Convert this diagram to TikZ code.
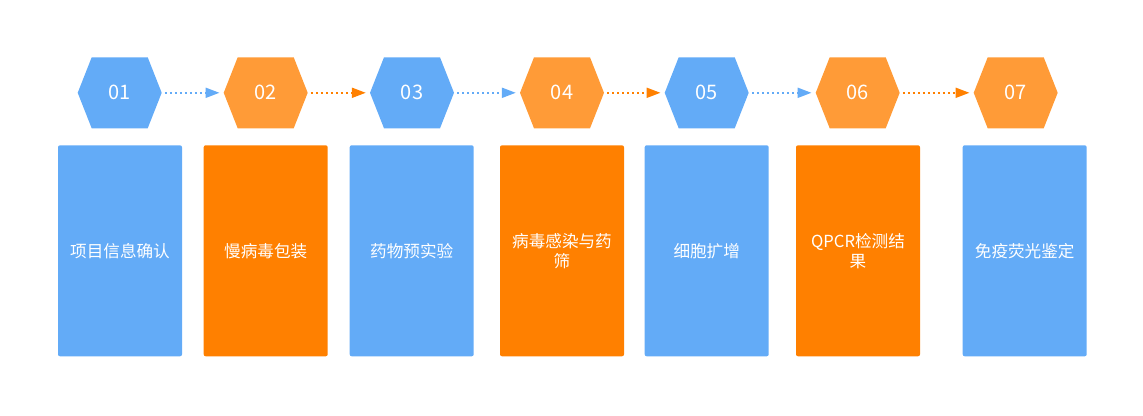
\documentclass[tikz,border=0pt]{standalone}
\usepackage{fontspec}
\newfontfamily\cjk{Noto Sans CJK SC}
\usetikzlibrary{arrows.meta}
\definecolor{stepblue}{HTML}{63ABF7}
\definecolor{steporange}{HTML}{FF8000}
\definecolor{hexorange}{HTML}{FF9B37}
\newcommand{\boxfont}{\fontsize{16.6}{20}\selectfont}
\newcommand{\numfont}{\fontsize{20}{22}\selectfont}
\tikzset{hexnode/.style={minimum width=84pt,minimum height=71pt,inner sep=0,text=white,font=\cjk\numfont,
    path picture={\fill[#1] (path picture bounding box.west)
      -- ([xshift=14pt]path picture bounding box.north west) -- ([xshift=-14pt]path picture bounding box.north east)
      -- (path picture bounding box.east)
      -- ([xshift=-14pt]path picture bounding box.south east) -- ([xshift=14pt]path picture bounding box.south west)
      -- cycle;}},
  stepbox/.style={fill=#1,rounded corners=2pt,minimum width=124pt,minimum height=211pt,inner sep=0,
    text=white,align=center,font=\cjk\boxfont},
  link/.style={#1,line width=2pt,dash pattern=on 2pt off 3pt,shorten <=3pt,shorten >=4pt,
    -{Triangle[length=14pt,width=10pt]}}}
\begin{document}
\begin{tikzpicture}[x=1pt,y=1pt]
\useasboundingbox (0,0) rectangle (1143,415);
% hexagons
\node[hexnode=stepblue] (n1) at (119.7,322.2) {01};
\node[hexnode=hexorange] (n2) at (265.7,322.2) {02};
\node[hexnode=stepblue] (n3) at (412,322.2) {03};
\node[hexnode=hexorange] (n4) at (562,322.2) {04};
\node[hexnode=stepblue] (n5) at (706.7,322.2) {05};
\node[hexnode=hexorange] (n6) at (857.7,322.2) {06};
\node[hexnode=hexorange] (n7) at (1015.7,322.2) {07};
% boxes
\node[stepbox=stepblue] (b1) at (120,164.2) {项目信息确认};
\node[stepbox=steporange] (b2) at (265.7,164.2) {慢病毒包装};
\node[stepbox=stepblue] (b3) at (411.7,164.2) {药物预实验};
\node[stepbox=steporange] (b4) at (562,164.2) {病毒感染与药\\筛};
\node[stepbox=stepblue] (b5) at (706.7,164.2) {细胞扩增};
\node[stepbox=steporange] (b6) at (858,164.2) {QPCR检测结\\果};
\node[stepbox=stepblue] (b7) at (1024.7,164.2) {免疫荧光鉴定};
% arrows
\draw[link=stepblue] (n1.east) -- (n2.west);
\draw[link=steporange] (n2.east) -- (n3.west);
\draw[link=stepblue] (n3.east) -- (n4.west);
\draw[link=steporange] (n4.east) -- (n5.west);
\draw[link=stepblue] (n5.east) -- (n6.west);
\draw[link=steporange] (n6.east) -- (n7.west);
\end{tikzpicture}
\end{document}
